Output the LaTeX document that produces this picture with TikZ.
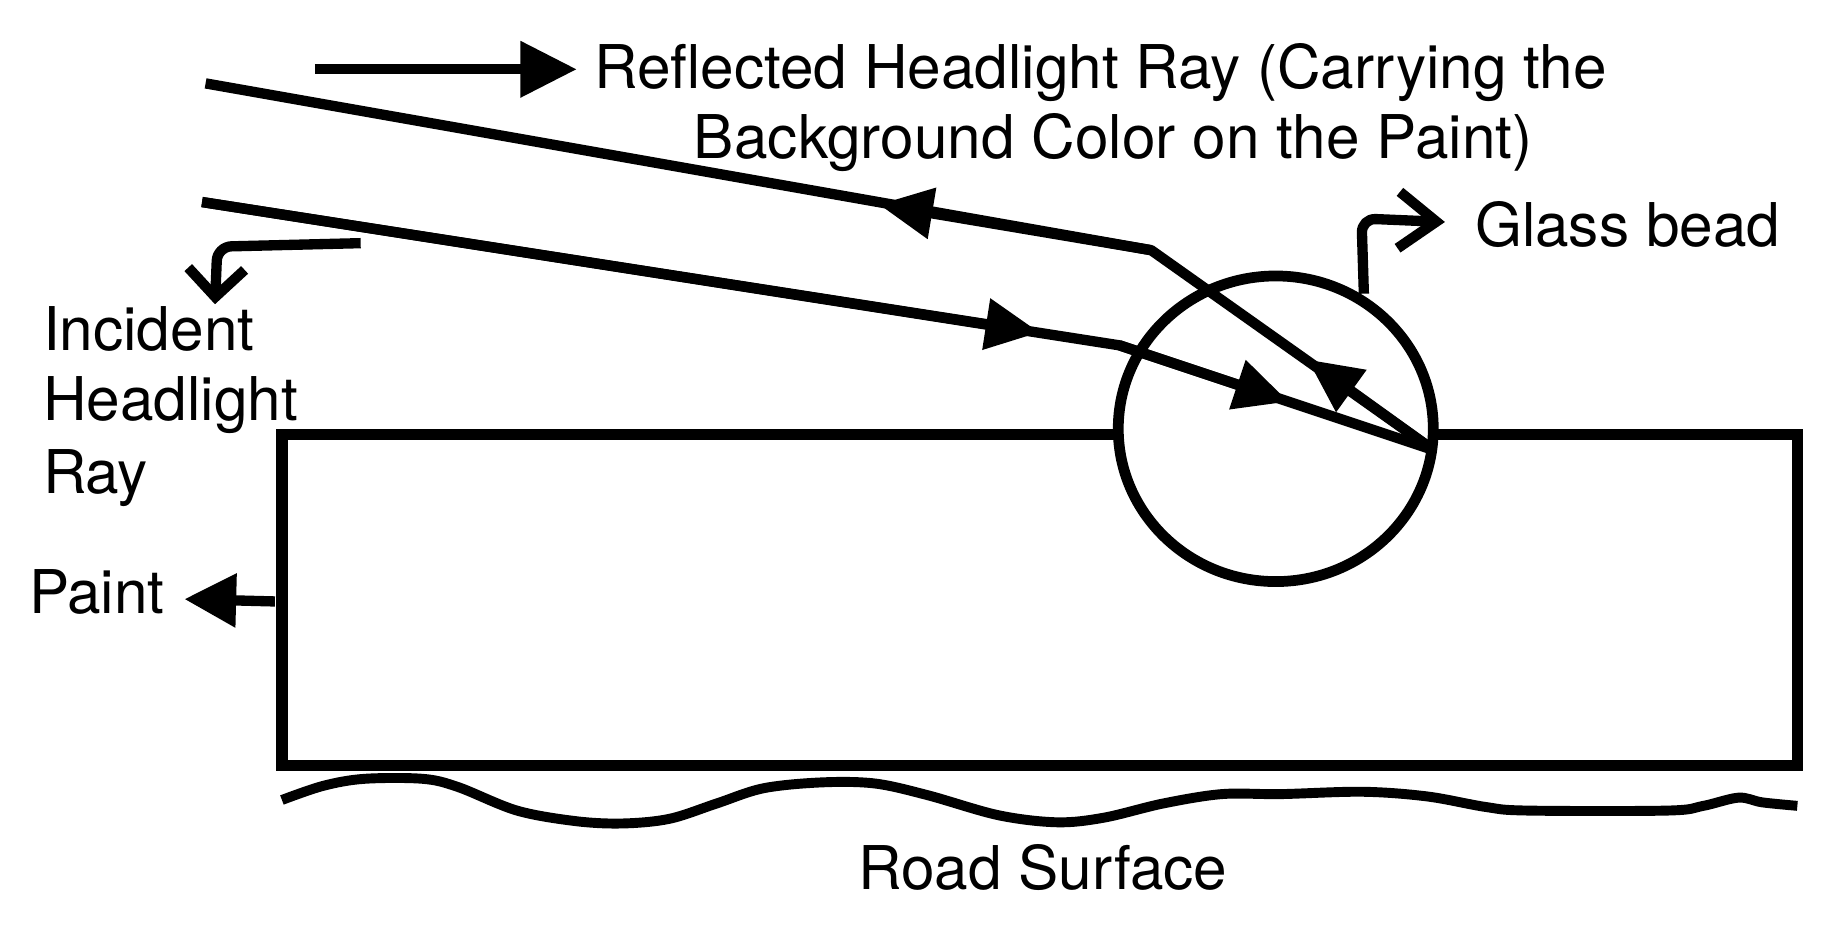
\documentclass[tikz,border=0pt]{standalone}
\usepackage{fontspec}
\setmainfont{TeX Gyre Heros}
\usetikzlibrary{arrows.meta}
\begin{document}
\begin{tikzpicture}[x=0.01cm,y=-0.01cm,
  ray/.style={line width=2.5pt, line cap=butt, line join=round},
  box/.style={line width=2.7pt, line join=miter},
  tri/.style={-{Triangle[length=0.46cm,width=0.42cm]}},
  lbl/.style={inner sep=0pt, font=\fontsize{14.6}{17.1}\selectfont}]
\useasboundingbox[fill=white] (0,0) rectangle (1568,795);

% ray coordinates
\coordinate (refEnd) at (175,71);
\coordinate (refTip) at (748,174);
\coordinate (refBend) at (980,213);
\coordinate (innerTip) at (1113,306);
\coordinate (exit) at (1220,383);
\coordinate (inStart) at (172,172);
\coordinate (inTip) at (885,283);
\coordinate (inBend) at (953,294);
\coordinate (beadTip) at (1097,342);

% paint layer (gap in top edge inside bead)
\draw[box] (952,370) -- (240,370) -- (240,652) -- (1530,652) -- (1530,370) -- (1220,370);

% glass bead
\draw[ray, line width=2.6pt] (1086,365) ellipse [x radius=1.34cm, y radius=1.30cm];

% road surface
\draw[ray, line width=2.4pt] plot[smooth, tension=0.55] coordinates {
 (240,681) (275,669) (310,663) (360,663) (390,670) (440,690) (490,699)
 (530,701) (570,697) (610,684) (650,671) (700,666) (745,667) (790,677)
 (850,694) (900,700) (940,696) (990,684) (1040,676) (1090,676) (1160,674)
 (1215,678) (1265,687) (1300,690) (1420,690) (1450,686) (1480,679)
 (1500,683) (1530,686)};

% incident ray
\draw[ray] (inStart) -- (inBend) -- (exit);
\draw[ray, tri] (inStart) -- (inTip);
\draw[ray, tri] (inBend) -- (beadTip);

% reflected ray
\draw[ray] (exit) -- (refBend) -- (refEnd);
\draw[ray, tri] (exit) -- (innerTip);
\draw[ray, tri] (refBend) -- (refTip);

% labels
\node[lbl, anchor=base west] (reflbl) at (505,75) {Reflected Headlight Ray (Carrying the};
\node[lbl, anchor=base west] (reflbl2) at (590,135) {Background Color on the Paint)};
\node[lbl, anchor=base west] (beadlbl) at (1255,210) {Glass bead};
\node[lbl, anchor=base west] (inc1) at (36,298) {Incident};
\node[lbl, anchor=base west] (inc2) at (36,358) {Headlight};
\node[lbl, anchor=base west] (inc3) at (36,420) {Ray};
\node[lbl, anchor=base west] (paint) at (24,522) {Paint};
\node[lbl, anchor=base west] (road) at (730,757) {Road Surface};

% pointer arrows
\coordinate (topArrS) at (268,59);
\coordinate (topArrE) at (491,59);
\draw[ray, -{Triangle[length=0.48cm,width=0.46cm]}] (topArrS) -- (topArrE);

\coordinate (paintS) at (234,512);
\coordinate (paintE) at (157,510);
\draw[ray, -{Triangle[length=0.44cm,width=0.44cm]}] (paintS) -- (paintE);

\coordinate (beadS) at (1161,250);
\coordinate (beadC) at (1159,186);
\coordinate (beadE) at (1230,189);
\draw[ray, rounded corners=0.12cm, -{Straight Barb[length=0.32cm,width=0.48cm,line width=2.5pt]}] (beadS) -- (beadC) -- (beadE);

\coordinate (incS) at (307,207);
\coordinate (incC) at (185,210);
\coordinate (incE) at (183,259);
\draw[ray, rounded corners=0.12cm, -{Straight Barb[length=0.24cm,width=0.48cm,line width=2.5pt]}] (incS) -- (incC) -- (incE);
\end{tikzpicture}
\end{document}
